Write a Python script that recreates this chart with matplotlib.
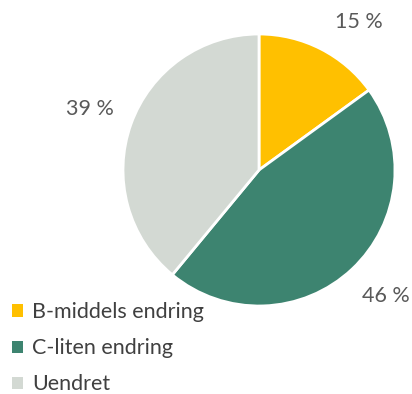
import matplotlib
matplotlib.use("Agg")
import matplotlib.pyplot as plt
import numpy as np

categories = ["B-middels endring", "C-liten endring", "Uendret"]
values = [15, 46, 39]
labels = ["15 %", "46 %", "39 %"]
colors = ["#FFC000", "#3D8470", "#D3D9D3"]

plt.rcParams['font.family'] = ['Lato', 'DejaVu Sans']

W, H = 412, 394
fig = plt.figure(figsize=(W/100, H/100), dpi=100)
cx, cy, r = 259, 170, 136
ax = fig.add_axes([(cx - r)/W, (H - cy - r)/H, 2*r/W, 2*r/H])
wedges, _ = ax.pie(values, colors=colors, startangle=90, counterclock=False,
                   radius=1.0, wedgeprops=dict(edgecolor="white", linewidth=2))
ax.set_xlim(-1, 1)
ax.set_ylim(-1, 1)
ax.set_aspect('equal')
ax.axis('off')

# percentage labels outside
label_r = [1.31, 1.31, 1.32]
angle_shift = [-7, 2, 0]
start = 90
for v, lab, lr, sh in zip(values, labels, label_r, angle_shift):
    mid = start - v/100*360/2
    start -= v/100*360
    th = np.deg2rad(mid + sh)
    ax.text(lr*np.cos(th), lr*np.sin(th), lab, ha='center', va='center',
            fontsize=15.5, color='#595959', clip_on=False)

leg = fig.legend(wedges, categories, loc='upper left', bbox_to_anchor=(0.008, 0.255),
                 frameon=False, fontsize=15.5, labelcolor='#404040',
                 handlelength=0.5, handleheight=0.5, handletextpad=0.45,
                 labelspacing=0.75, borderaxespad=0)
for h in leg.legend_handles:
    h.set_linewidth(0)

fig.savefig("out.png", dpi=100)
